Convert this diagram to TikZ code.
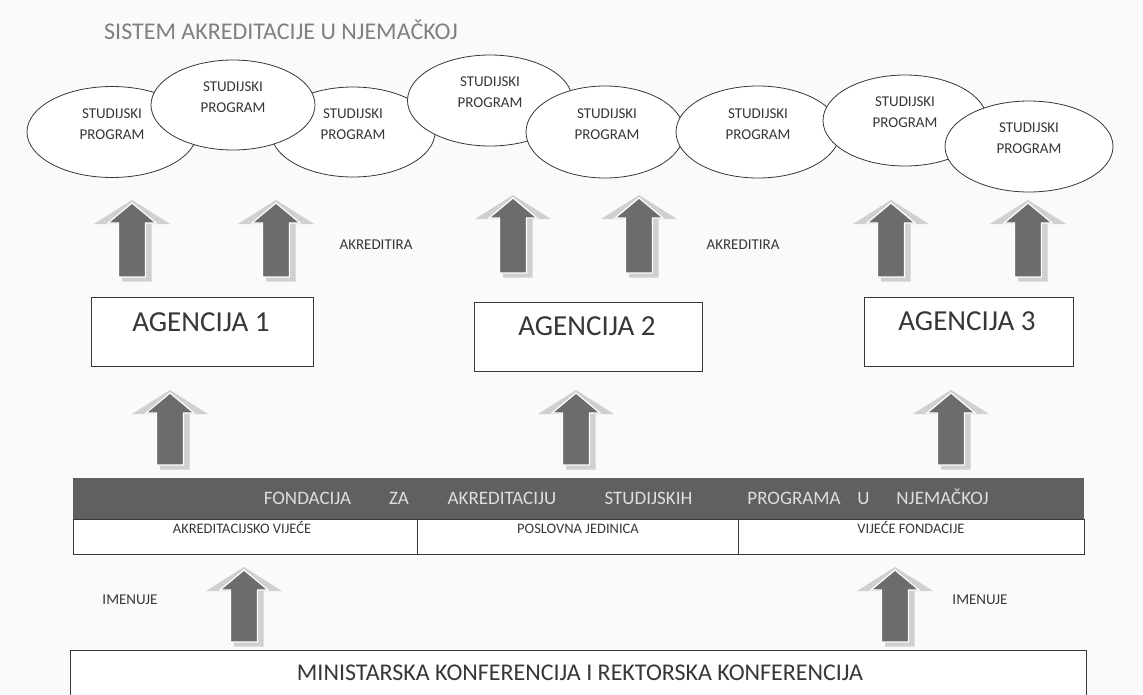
\documentclass[tikz,border=0pt]{standalone}
\usepackage{fontspec}
\setmainfont{Carlito}
\usetikzlibrary{shapes.geometric}
\definecolor{bg}{RGB}{250,250,250}
\definecolor{ink}{RGB}{55,55,55}
\definecolor{titlegray}{RGB}{128,128,128}
\definecolor{arrdark}{RGB}{108,108,110}
\definecolor{arrlight}{RGB}{208,208,208}
\definecolor{bardark}{RGB}{96,96,98}
\definecolor{bartext}{RGB}{222,222,222}
\tikzset{
  prog/.style={ellipse, draw=ink, fill=white, line width=0.8pt, inner sep=0pt},
  progtext/.style={font=\fontsize{15}{21}\selectfont, text=ink, align=center, inner sep=0pt},
  agbox/.style={draw=ink, fill=white, line width=0.8pt, inner sep=0pt},
  agtext/.style={font=\fontsize{29}{30}\selectfont, text=ink, inner sep=0pt, text height=18.7pt, text depth=0pt},
  smalllbl/.style={font=\fontsize{15}{16}\selectfont, text=ink, inner sep=0pt, text height=9.7pt, text depth=0pt},
  sublbl/.style={font=\fontsize{14.5}{16}\selectfont, text=ink, inner sep=0pt, text height=9.3pt, text depth=0pt},
  barword/.style={font=\fontsize{19}{20}\selectfont, text=bartext, inner sep=0pt, text height=12.2pt, text depth=0pt},
  titletext/.style={font=\fontsize{24}{26}\selectfont, text=titlegray, inner sep=0pt, text height=15.5pt, text depth=0pt},
  ministext/.style={font=\fontsize{24}{26}\selectfont, text=ink, inner sep=0pt, text height=15.5pt, text depth=0pt},
}
\newcommand{\blockup}[3]{%
  \fill[arrlight] (#1,#2-3) -- (#1+38,#2+21) -- (#1+19.5,#2+21) -- (#1+19.5,#3+4.5)
     -- (#1-10,#3+4.5) -- (#1-10,#2+21) -- (#1-38,#2+21) -- cycle;
  \filldraw[fill=arrdark, draw=white, line width=1.2pt] (#1,#2) -- (#1+24,#2+20)
     -- (#1+13.5,#2+20) -- (#1+13.5,#3) -- (#1-13.5,#3) -- (#1-13.5,#2+20)
     -- (#1-24,#2+20) -- cycle;
}
\begin{document}
\begin{tikzpicture}[x=1pt,y=-1pt]
\useasboundingbox (0,0) rectangle (1143,694);
\fill[bg] (0,0) rectangle (1143,694);

% title
\node[titletext, anchor=west] (title) at (104,32) {SISTEM AKREDITACIJE U NJEMAČKOJ};

% study programmes (drawing order = stacking)
\node[prog, minimum width=170pt, minimum height=91pt] (e1) at (112,132) {};
\node[progtext] (e1t) at (112,124) {STUDIJSKI\\PROGRAM};
\node[prog, minimum width=164pt, minimum height=90pt] (e3) at (353,132) {};
\node[progtext] (e3t) at (353,124) {STUDIJSKI\\PROGRAM};
\node[prog, minimum width=164pt, minimum height=90pt] (e2) at (233,105) {};
\node[progtext] (e2t) at (233,97.5) {STUDIJSKI\\PROGRAM};
\node[prog, minimum width=165pt, minimum height=91pt] (e4) at (490,100.5) {};
\node[progtext] (e4t) at (490,92.5) {STUDIJSKI\\PROGRAM};
\node[prog, minimum width=158pt, minimum height=92pt] (e5) at (605,132) {};
\node[progtext] (e5t) at (607,124) {STUDIJSKI\\PROGRAM};
\node[prog, minimum width=164pt, minimum height=92pt] (e6) at (758,132) {};
\node[progtext] (e6t) at (758,124) {STUDIJSKI\\PROGRAM};
\node[prog, minimum width=164pt, minimum height=91pt] (e7) at (905,120.5) {};
\node[progtext] (e7t) at (905,112) {STUDIJSKI\\PROGRAM};
\node[prog, minimum width=168pt, minimum height=91pt] (e8) at (1029,146.5) {};
\node[progtext] (e8t) at (1029,138) {STUDIJSKI\\PROGRAM};

% arrows agency -> programmes
\blockup{132}{203}{277}
\blockup{276}{203}{277}
\blockup{513}{198}{273}
\blockup{639}{198}{273}
\blockup{891}{203}{277}
\blockup{1028}{203}{277}
\node[smalllbl] (akr1) at (376,245) {AKREDITIRA};
\node[smalllbl] (akr2) at (743,245) {AKREDITIRA};

% agencies
\node[agbox, minimum width=222pt, minimum height=69pt] (ag1) at (202,331.5) {};
\node[agtext] (ag1t) at (201,322) {AGENCIJA 1};
\node[agbox, minimum width=228pt, minimum height=69pt] (ag2) at (588,336.5) {};
\node[agtext] (ag2t) at (587,326) {AGENCIJA 2};
\node[agbox, minimum width=209pt, minimum height=69pt] (ag3) at (968.5,331.5) {};
\node[agtext] (ag3t) at (967,321) {AGENCIJA 3};

% arrows foundation -> agencies
\blockup{170}{393}{465}
\blockup{576}{393}{465}
\blockup{951}{393}{465}

% foundation
\fill[bardark] (73,478) rectangle (1084,519);
\filldraw[fill=white, draw=ink, line width=0.8pt] (73,519) rectangle (1084,554);
\draw[ink, line width=0.8pt] (417,519) -- (417,554) (738,519) -- (738,554);
\node[barword] (f1) at (307.5,498) {FONDACIJA};
\node[barword] (f2) at (399,498) {ZA};
\node[barword] (f3) at (502,498) {AKREDITACIJU};
\node[barword] (f4) at (648.5,498) {STUDIJSKIH};
\node[barword] (f5) at (794,498) {PROGRAMA};
\node[barword] (f6) at (863.5,498) {U};
\node[barword] (f7) at (942.5,498) {NJEMAČKOJ};
\node[sublbl] (s1) at (242,529) {AKREDITACIJSKO VIJEĆE};
\node[sublbl] (s2) at (578,529) {POSLOVNA JEDINICA};
\node[sublbl] (s3) at (911,529) {VIJEĆE FONDACIJE};

% ministers -> foundation
\blockup{244}{570}{642}
\blockup{895}{570}{642}
\node[smalllbl] (im1) at (130,600) {IMENUJE};
\node[smalllbl] (im2) at (980,600) {IMENUJE};

% ministers' conference
\filldraw[fill=white, draw=ink, line width=0.8pt] (70,702) -- (70,650) -- (1086,650) -- (1086,702);
\node[ministext] (min) at (580,673) {MINISTARSKA KONFERENCIJA I REKTORSKA KONFERENCIJA};
\end{tikzpicture}
\end{document}
